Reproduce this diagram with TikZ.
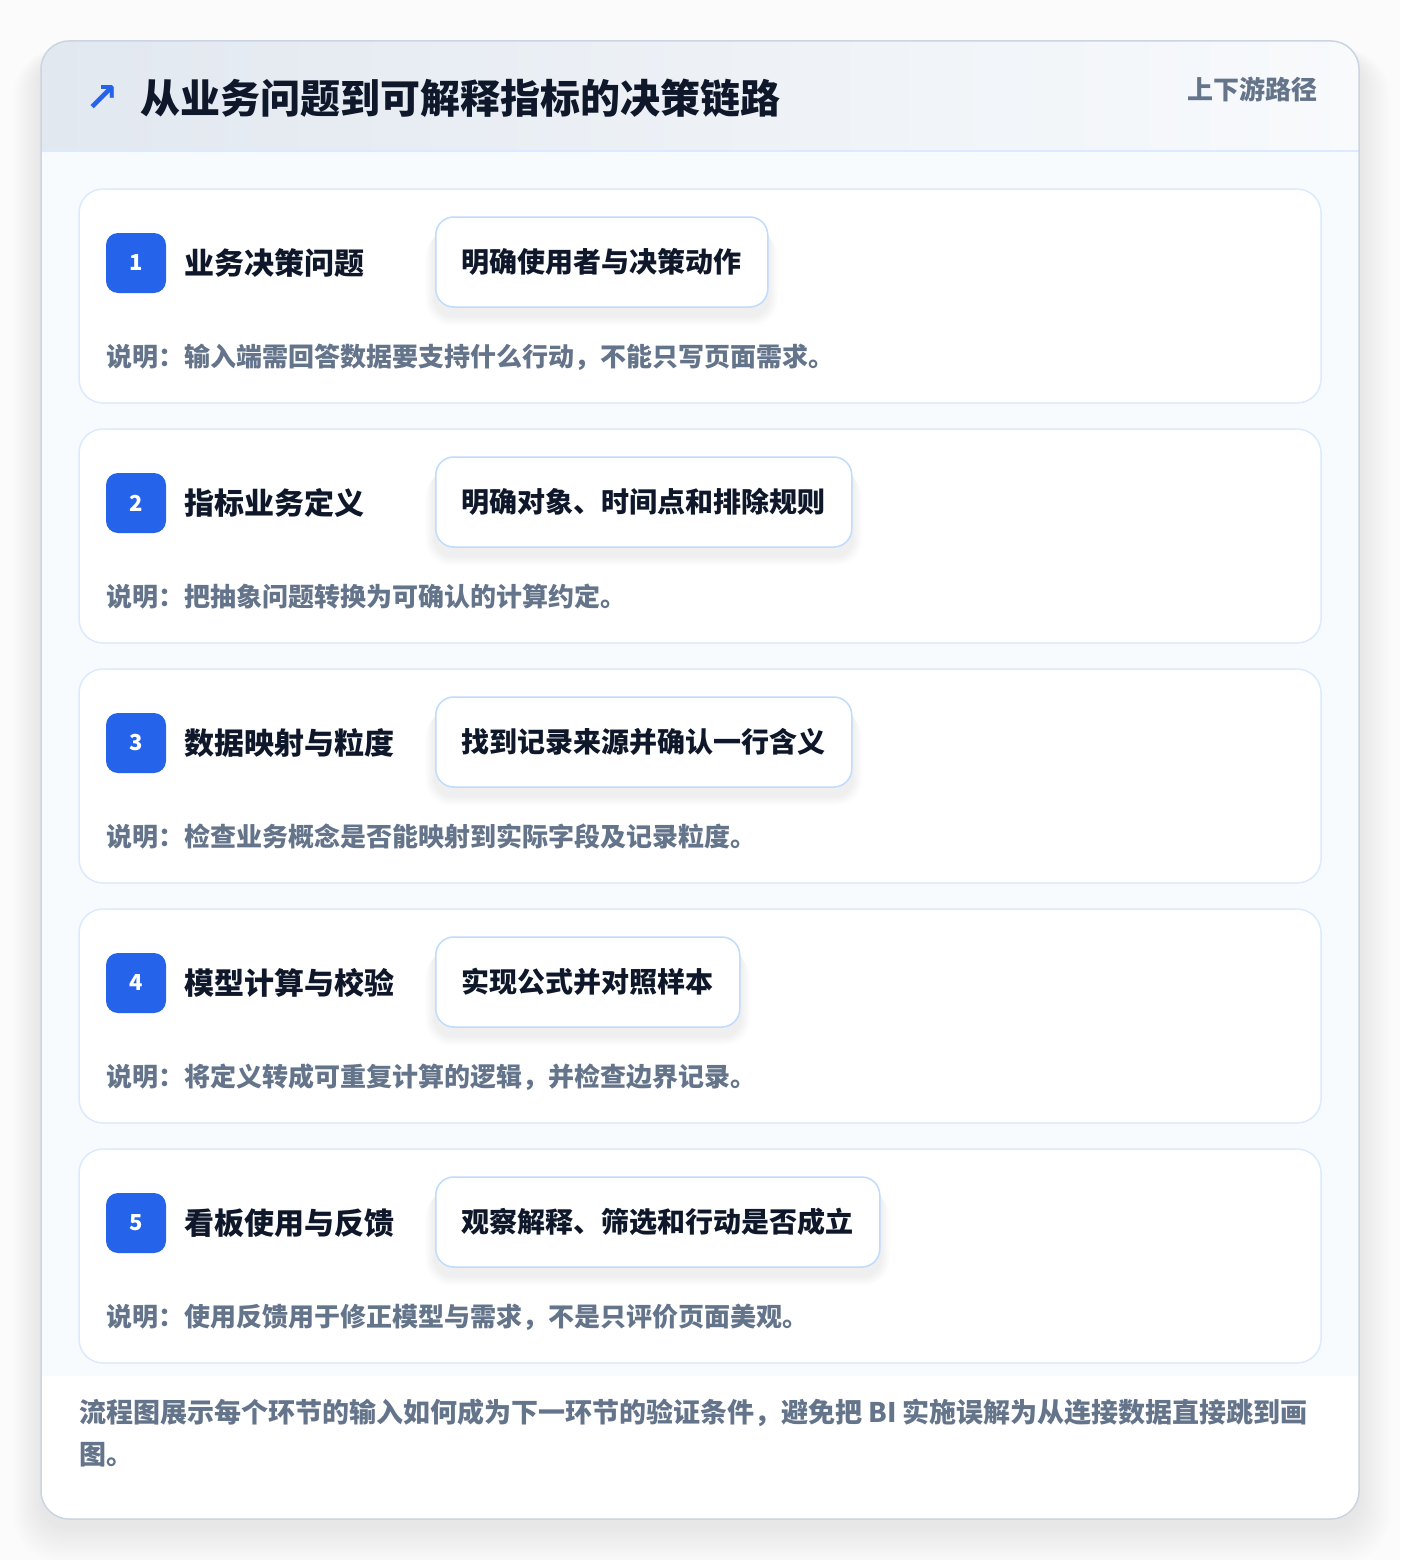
\documentclass[tikz,border=0pt]{standalone}
\usepackage{fontspec}
\setmainfont{Noto Sans CJK SC}
\newfontfamily\symfont{DejaVu Sans}
\definecolor{pagebg}{HTML}{FBFBFC}
\definecolor{cardborder}{HTML}{CBD5E1}
\definecolor{hdrL}{HTML}{E2E8F0}
\definecolor{hdrR}{HTML}{F8FAFC}
\definecolor{hdrline}{HTML}{DBEAFE}
\definecolor{bodybg}{HTML}{F8FBFE}
\definecolor{stepborder}{HTML}{DBEAFE}
\definecolor{pillborder}{HTML}{BFDBFE}
\definecolor{badgeblue}{HTML}{2563EB}
\definecolor{ink}{HTML}{0F172A}
\definecolor{muted}{HTML}{64748B}
\tikzset{
  stepcard/.style={draw=stepborder, line width=1.5pt, fill=white, rounded corners=24pt},
  badge/.style={fill=badgeblue, rounded corners=12pt, minimum width=60pt, minimum height=60pt, inner sep=0pt, text=white, font=\bfseries\fontsize{22}{26}\selectfont},
  steptitle/.style={anchor=west, inner sep=0pt, text=ink, font=\bfseries\fontsize{30}{36}\selectfont},
  pill/.style={anchor=west, draw=pillborder, line width=1.5pt, fill=white, rounded corners=18pt, minimum height=90pt, inner xsep=26pt, text=ink, font=\bfseries\fontsize{28}{34}\selectfont},
  desc/.style={anchor=west, inner sep=0pt, text=muted, font=\bfseries\fontsize{26}{30}\selectfont},
}
\begin{document}
\begin{tikzpicture}[x=1pt,y=-1pt]
\useasboundingbox (0,0) rectangle (1400,1560);
\fill[pagebg] (0,0) rectangle (1400,1560);
% outer card shadow
\foreach \i in {1,...,20}{
  \fill[black, opacity=0.0045, rounded corners=28pt+\i pt] (41-\i*1.4,41-\i*0.3+14) rectangle (1359+\i*1.6,1519+\i*1.8+8);
}
% outer card
\path[fill=white, rounded corners=28pt] (41,41) rectangle (1359,1519);
\begin{scope}
  \clip[rounded corners=28pt] (41,41) rectangle (1359,1519);
  \fill[bodybg] (41,151) rectangle (1359,1376);
  \shade[left color=hdrL, right color=hdrR] (41,41) rectangle (1359,151);
  \draw[hdrline, line width=1.5pt] (41,151) -- (1359,151);
\end{scope}
\draw[cardborder, line width=1.5pt, rounded corners=28pt] (41,41) rectangle (1359,1519);
% header
\node[anchor=center, inner sep=0pt, text=badgeblue, font=\symfont\bfseries\fontsize{40}{44}\selectfont] (icon) at (102,99) {↗};
\node[anchor=west, inner sep=0pt, text=ink, font=\bfseries\fontsize{40}{46}\selectfont] (title) at (140,98) {从业务问题到可解释指标的决策链路};
\node[anchor=east, inner sep=0pt, text=muted, font=\bfseries\fontsize{26}{30}\selectfont] (tag) at (1318,89) {上下游路径};
% steps
\foreach \n/\t/\p/\d in {
  1/业务决策问题/明确使用者与决策动作/说明：输入端需回答数据要支持什么行动，不能只写页面需求。,
  2/指标业务定义/明确对象、时间点和排除规则/说明：把抽象问题转换为可确认的计算约定。,
  3/数据映射与粒度/找到记录来源并确认一行含义/说明：检查业务概念是否能映射到实际字段及记录粒度。,
  4/模型计算与校验/实现公式并对照样本/说明：将定义转成可重复计算的逻辑，并检查边界记录。,
  5/看板使用与反馈/观察解释、筛选和行动是否成立/说明：使用反馈用于修正模型与需求，不是只评价页面美观。}{
  \pgfmathsetmacro{\oy}{240*(\n-1)}
  \path[stepcard] (79,189+\oy) rectangle (1321,403+\oy);
  \node[badge] (badge\n) at (136,263+\oy) {\n};
  \node[steptitle] (stitle\n) at (184,263+\oy) {\t};
  \node[pill, opacity=0] (pillghost\n) at (435,262+\oy) {\p};
  \foreach \k in {1,...,8}{
    \fill[black, opacity=0.006, rounded corners=18pt+\k pt] ([xshift=-\k*1.2pt, yshift=-\k*1.2pt-6pt]pillghost\n.north west) rectangle ([xshift=\k*1.2pt, yshift=-\k*1.2pt-8pt]pillghost\n.south east);
  }
  \node[pill] (pill\n) at (435,262+\oy) {\p};
  \node[desc] (desc\n) at (106,357+\oy) {\d};
}
% footer
\node[anchor=north west, inner sep=0pt, text=muted, align=left, font=\bfseries\fontsize{27}{42}\selectfont] (foot) at (79,1399) {流程图展示每个环节的输入如何成为下一环节的验证条件，避免把 BI 实施误解为从连接数据直接跳到画\\图。};
\end{tikzpicture}
\end{document}
